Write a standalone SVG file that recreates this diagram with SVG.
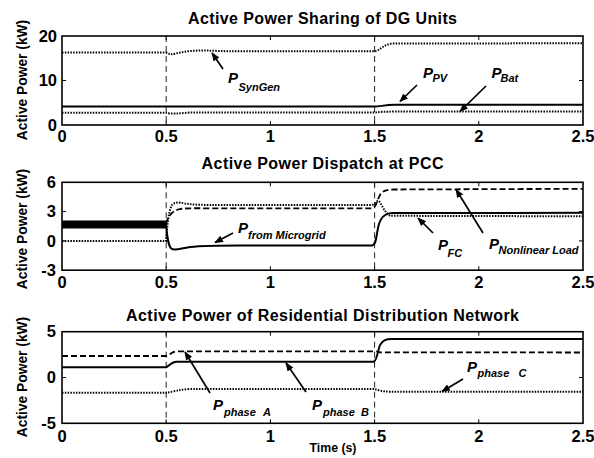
<svg xmlns="http://www.w3.org/2000/svg" width="594" height="458" viewBox="0 0 594 458">
<defs>
<style>
text{font-family:"Liberation Sans",Arial,Helvetica,sans-serif;font-weight:bold;fill:#000}
.title{font-size:16px}
.tick{font-size:16.5px}
.ylab{font-size:13.8px}
.xl{font-size:12.3px}
.P{font-size:15px;font-style:italic}
.sub{font-size:11px;font-style:italic}
.ax{fill:none;stroke:#000;stroke-width:1.6}
.tk{stroke:#000;stroke-width:1}
.vd{stroke:#222;stroke-width:1;stroke-dasharray:6 4;fill:none}
.sol{fill:none;stroke:#000;stroke-width:2}
.dot{fill:none;stroke:#000;stroke-width:2;stroke-dasharray:1.5 1.3}
.dsh{fill:none;stroke:#000;stroke-width:1.8;stroke-dasharray:6 3}
.arr{stroke:#000;stroke-width:1.7;fill:none;marker-end:url(#ah)}
</style>
<marker id="ah" viewBox="0 0 10 8" refX="9" refY="4" markerWidth="9" markerHeight="7" markerUnits="userSpaceOnUse" orient="auto">
<path d="M0,0 L10,4 L0,8 Z" fill="#000"/>
</marker>
</defs>
<rect width="594" height="458" fill="#fff"/>

<!-- Plot 1 -->
<g id="plot1">
<text class="title" x="322.5" y="24" text-anchor="middle" textLength="269" lengthAdjust="spacing">Active Power Sharing of DG Units</text>
<text class="ylab" transform="translate(26.5,80) rotate(-90)" text-anchor="middle">Active Power (kW)</text>
<g class="tk">
<path d="M166.2,125v-4M270.4,125v-4M374.6,125v-4M478.8,125v-4M166.2,36v4M270.4,36v4M374.6,36v4M478.8,36v4M62,80.5h4M583,80.5h-4"/>
</g>
<path class="vd" d="M166.2,36V125M374.6,36V125"/>
<path class="dot" d="M62,52.5 L166,52.5 C170,54.5 172,54.5 176,53.5 C185,51 195,50.5 205,50.5 C215,50.8 225,51.3 240,51.3 L375,51.3 C380,50 384,44.5 392,43.5 L583,43.3"/>
<path class="sol" d="M62,106.5 L375,106.5 C380,106.5 385,104.8 395,104.8 L583,104.8"/>
<path class="dot" d="M62,112.8 L166,112.8 C170,114 180,113.5 190,112.5 L375,112.5 C380,111.8 385,111.6 395,111.6 L583,111.6"/>
<rect class="ax" x="62" y="36" width="521" height="89"/>
<g class="tick">
<text x="57" y="41.7" text-anchor="end">20</text>
<text x="57" y="86.2" text-anchor="end">10</text>
<text x="57" y="130.7" text-anchor="end">0</text>
<text x="62" y="141.5" text-anchor="middle">0</text>
<text x="166.2" y="141.5" text-anchor="middle">0.5</text>
<text x="270.4" y="141.5" text-anchor="middle">1</text>
<text x="374.6" y="141.5" text-anchor="middle">1.5</text>
<text x="478.8" y="141.5" text-anchor="middle">2</text>
<text x="583" y="141.5" text-anchor="middle">2.5</text>
</g>
</g>

<!-- Plot 2 -->
<g id="plot2">
<text class="title" x="322.5" y="169" text-anchor="middle" textLength="242" lengthAdjust="spacing">Active Power Dispatch at PCC</text>
<text class="ylab" transform="translate(26.5,229) rotate(-90)" text-anchor="middle">Active Power (kW)</text>
<g class="tk">
<path d="M166.2,270.2v-4M270.4,270.2v-4M374.6,270.2v-4M478.8,270.2v-4M166.2,182.3v4M270.4,182.3v4M374.6,182.3v4M478.8,182.3v4M62,211.6h4M62,240.9h4M583,211.6h-4M583,240.9h-4"/>
</g>
<path class="vd" d="M166.2,182.3V270.2M374.6,182.3V270.2"/>
<rect x="62" y="220.5" width="104" height="8" fill="#000"/>
<path class="dot" d="M62,241 L166,241 C167,230 168,212 172,205 C175,202 178,202 185,203.5 C195,205 205,205 220,205 L372,205 C375,204 377,200 379,201 C382,205 385,213 390,215.8 L583,216.3"/>
<path class="dsh" d="M166,224 C168,216 172,211 180,209 C188,208 195,208.3 210,208.3 L372,208.3 C376,208 377,200 380,195 C383,190 388,189.5 395,189.5 L583,188.8"/>
<path class="sol" d="M166,224 C167,235 168,247 172,249 C176,250.5 180,248.5 190,247 C200,246 215,245.5 240,245.5 L372,245.5 C376,245 376,238 378,228 C380,218 384,213.5 392,213 L583,212.8"/>
<rect class="ax" x="62" y="182.3" width="521" height="87.9"/>
<g class="tick">
<text x="56" y="188" text-anchor="end">6</text>
<text x="56" y="217.3" text-anchor="end">3</text>
<text x="56" y="246.6" text-anchor="end">0</text>
<text x="56" y="275.9" text-anchor="end">-3</text>
<text x="62" y="287.5" text-anchor="middle">0</text>
<text x="166.2" y="287.5" text-anchor="middle">0.5</text>
<text x="270.4" y="287.5" text-anchor="middle">1</text>
<text x="374.6" y="287.5" text-anchor="middle">1.5</text>
<text x="478.8" y="287.5" text-anchor="middle">2</text>
<text x="583" y="287.5" text-anchor="middle">2.5</text>
</g>
</g>

<!-- Plot 3 -->
<g id="plot3">
<text class="title" x="322.5" y="321" text-anchor="middle" textLength="393" lengthAdjust="spacing">Active Power of Residential Distribution Network</text>
<text class="ylab" transform="translate(26.5,377) rotate(-90)" text-anchor="middle">Active Power (kW)</text>
<g class="tk">
<path d="M166.2,423.3v-4M270.4,423.3v-4M374.6,423.3v-4M478.8,423.3v-4M166.2,331.7v4M270.4,331.7v4M374.6,331.7v4M478.8,331.7v4M62,377.5h4M583,377.5h-4"/>
</g>
<path class="vd" d="M166.2,331.7V423.3M374.6,331.7V423.3"/>
<path class="dsh" d="M62,356 L166,356 C170,355 172,351.5 178,351.3 L374,351.3 C377,351.3 378,352 380,352.3 L583,352.5"/>
<path class="sol" d="M62,367.3 L166,367.3 C169,366 171,362 176,361.7 L374,361.7 C377,360 378,350 380,345 C383,340 386,339 392,339 L583,339"/>
<path class="dot" d="M62,392.7 L166,392.7 C172,392 180,389.5 190,389 L374,389 C378,390 382,391.5 390,391.7 L583,391.7"/>
<rect class="ax" x="62" y="331.7" width="521" height="91.6"/>
<g class="tick">
<text x="56" y="337.4" text-anchor="end">5</text>
<text x="56" y="383.2" text-anchor="end">0</text>
<text x="56" y="429" text-anchor="end">-5</text>
<text x="62" y="441.5" text-anchor="middle">0</text>
<text x="166.2" y="441.5" text-anchor="middle">0.5</text>
<text x="270.4" y="441.5" text-anchor="middle">1</text>
<text x="374.6" y="441.5" text-anchor="middle">1.5</text>
<text x="478.8" y="441.5" text-anchor="middle">2</text>
<text x="583" y="441.5" text-anchor="middle">2.5</text>
</g>
<text class="xl" x="333" y="451.5" text-anchor="middle">Time (s)</text>
</g>

<!-- Labels -->
<g id="lbl-syngen"><text class="P" x="228" y="83">P</text><text class="sub" x="238.5" y="91">SynGen</text></g>
<g id="lbl-pv"><text class="P" x="423" y="78">P</text><text class="sub" x="432.5" y="82">PV</text></g>
<g id="lbl-bat"><text class="P" x="491.5" y="78">P</text><text class="sub" x="500.5" y="82">Bat</text></g>
<g id="lbl-micro"><text class="P" x="238" y="233">P</text><text class="sub" x="248" y="238.5">from Microgrid</text></g>
<g id="lbl-fc"><text class="P" x="438" y="250">P</text><text class="sub" x="447.5" y="257">FC</text></g>
<g id="lbl-nl"><text class="P" x="489" y="249">P</text><text class="sub" x="498.5" y="254">Nonlinear Load</text></g>
<g id="lbl-a"><text class="P" x="213" y="410">P</text><text class="sub" x="224" y="416">phase<tspan x="263">A</tspan></text></g>
<g id="lbl-b"><text class="P" x="312" y="410">P</text><text class="sub" x="323" y="416">phase<tspan x="361">B</tspan></text></g>
<g id="lbl-c"><text class="P" x="467" y="372">P</text><text class="sub" x="477.5" y="377">phase<tspan x="518.5">C</tspan></text></g>

<!-- Connectors -->
<g id="connectors">
<path class="arr" d="M223,69 L212,53"/>
<path class="arr" d="M417,85 L400,101.5"/>
<path class="arr" d="M486,86 L460,111.5"/>
<path class="arr" d="M233,233 L215,242.5"/>
<path class="arr" d="M433,233 L418,218"/>
<path class="arr" d="M483,233 L456,189.5"/>
<path class="arr" d="M210,393 L185,352"/>
<path class="arr" d="M306,392 L286,363"/>
<path class="arr" d="M463,379 L442,391.5"/>
</g>
</svg>
